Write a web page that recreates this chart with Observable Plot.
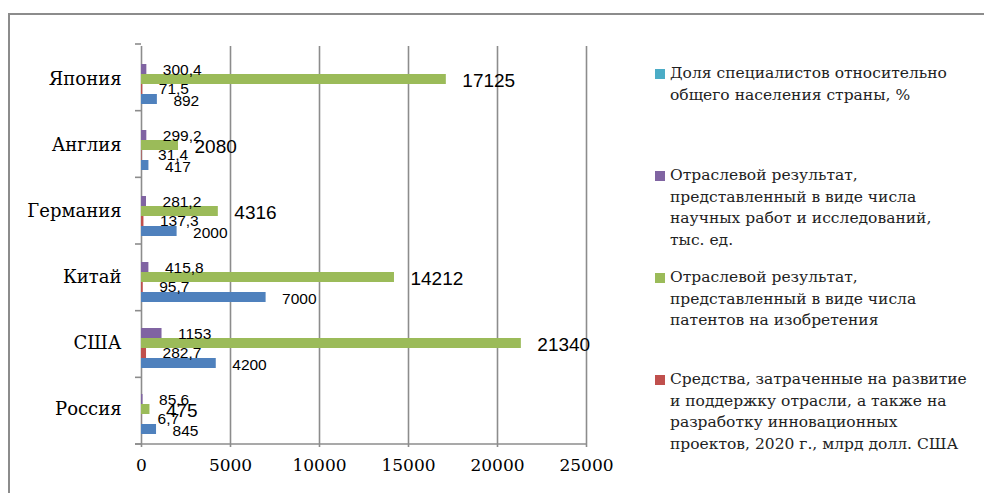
<!DOCTYPE html>
<html>
<head>
<meta charset="utf-8">
<script src="https://cdn.jsdelivr.net/npm/d3@7"></script>
<script src="https://cdn.jsdelivr.net/npm/@observablehq/plot@0.6"></script>
<style>
  html, body { margin: 0; padding: 0; background: #fff; }
  #wrap { position: relative; width: 984px; height: 493px; overflow: hidden; background: #fff; }
  #border { position: absolute; left: 8px; top: 13px; width: 1000px; height: 520px; border-left: 2px solid #8c8c8c; border-top: 2px solid #8c8c8c; box-sizing: border-box; }
  #chart { position: absolute; left: 0; top: 0; }
  #legend { position: absolute; left: 655px; top: 63px; font-family: "DejaVu Serif", serif; font-size: 15.5px; color: #222; }
  .item { position: relative; height: 102px; padding-left: 15px; line-height: 21.5px; white-space: pre; }
  .sw { position: absolute; left: 0; top: 6px; width: 10px; height: 10px; }
</style>
</head>
<body>
<div id="wrap">
  <div id="border"></div>
  <div id="chart"></div>
  <div id="legend"></div>
</div>
<script>
// Categories (Excel order: first category at the bottom)
const countries = ["Россия", "США", "Китай", "Германия", "Англия", "Япония"];

// Series values
const blueValues    = [845, 4200, 7000, 2000, 417, 892];
const fundsValues   = [6.7, 282.7, 95.7, 137.3, 31.4, 71.5];          // red
const patentValues  = [475, 21340, 14212, 4316, 2080, 17125];         // green
const papersValues  = [85.6, 1153, 415.8, 281.2, 299.2, 300.4];       // purple
// "Доля специалистов" (teal): no bars visible in the picture

const seriesKeys = ["share", "papers", "patents", "funds", "blue"];   // top to bottom inside a group
const seriesColors = ["#4BACC6", "#8064A2", "#9BBB59", "#C0504D", "#4F81BD"];

const legendLabels = [
  "Доля специалистов относительно\nобщего населения страны, %",
  "Отраслевой результат,\nпредставленный в виде числа\nнаучных работ и исследований,\nтыс. ед.",
  "Отраслевой результат,\nпредставленный в виде числа\nпатентов на изобретения",
  "Средства, затраченные на развитие\nи поддержку отрасли, а также на\nразработку инновационных\nпроектов, 2020 г., млрд долл. США"
];

const xTicks = [0, 5000, 10000, 15000, 20000, 25000];

const rows = [];
countries.forEach((c, i) => {
  rows.push({country: c, series: "blue", value: blueValues[i]});
  rows.push({country: c, series: "funds", value: fundsValues[i]});
  rows.push({country: c, series: "patents", value: patentValues[i]});
  rows.push({country: c, series: "papers", value: papersValues[i]});
});

const fmt = v => String(v).replace(".", ",");
const lbl = (series, opts) => Plot.text(rows, {
  filter: d => d.series === series,
  x: "value", y: "series", text: d => fmt(d.value),
  textAnchor: "start", dx: 16, fill: "#000",
  fontFamily: "Liberation Sans, Arial, sans-serif", ...opts
});

const plot = Plot.plot({
  width: 984,
  height: 493,
  marginLeft: 141,
  marginRight: 398,
  marginTop: 44,
  marginBottom: 49,
  style: {background: "transparent", fontFamily: "DejaVu Serif, serif", color: "#000"},
  facet: {data: rows, y: "country"},
  fy: {domain: countries.slice().reverse(), padding: 0, label: null, axis: "left", tickSize: 0, tickPadding: 20},
  y: {domain: seriesKeys, axis: null, paddingInner: 0, paddingOuter: 0.78},
  x: {domain: [0, 25000], ticks: xTicks, tickFormat: d => String(d), label: null, tickSize: 5, tickPadding: 11},
  color: {domain: seriesKeys, range: seriesColors},
  marks: [
    Plot.ruleX(xTicks.slice(1), {stroke: "#8c8c8c", strokeWidth: 1.6}),
    Plot.ruleX([0], {stroke: "#8c8c8c", strokeWidth: 1.6}),
    Plot.barX(rows, {x: "value", y: "series", fill: "series"}),
    lbl("papers", {fontSize: 15.5, dy: 1}),
    lbl("patents", {fontSize: 19, dy: 1}),
    lbl("funds", {fontSize: 15.5, dy: 0}),
    lbl("blue", {fontSize: 15.5, dy: 2})
  ]
});

document.getElementById("chart").appendChild(plot);

// Axis styling and category-boundary ticks drawn from the plot's own scales
const svg = d3.select(plot);
svg.selectAll('[aria-label^="fy-axis"] text').attr("font-size", 18).attr("fill", "#000");
svg.selectAll('[aria-label^="x-axis"] text').attr("font-size", 17).attr("fill", "#000");
svg.selectAll('[aria-label^="x-axis"] line, [aria-label^="x-axis"] path').attr("stroke", "#8c8c8c").attr("stroke-width", 1.6);

const fyS = plot.scale("fy");
const xS = plot.scale("x");
const band = d3.scaleBand(fyS.domain, fyS.range).paddingInner(0).paddingOuter(0);
const xs = d3.scaleLinear(xS.domain, xS.range);
const bounds = fyS.domain.map(c => band(c)).concat([band(fyS.domain[fyS.domain.length - 1]) + band.bandwidth()]);
const g = svg.append("g").attr("stroke", "#8c8c8c").attr("stroke-width", 1.6);
bounds.forEach(b => g.append("line").attr("x1", xs(0) - 6).attr("x2", xs(0)).attr("y1", b).attr("y2", b));
const yBottom = bounds[bounds.length - 1];
g.append("line").attr("x1", xs(0) - 6).attr("x2", xs(25000)).attr("y1", yBottom).attr("y2", yBottom);

// Legend
const legend = d3.select("#legend");
legendLabels.forEach((t, i) => {
  const it = legend.append("div").attr("class", "item");
  it.append("div").attr("class", "sw").style("background", seriesColors[i]);
  it.append("div").text(t);
});
</script>
</body>
</html>
